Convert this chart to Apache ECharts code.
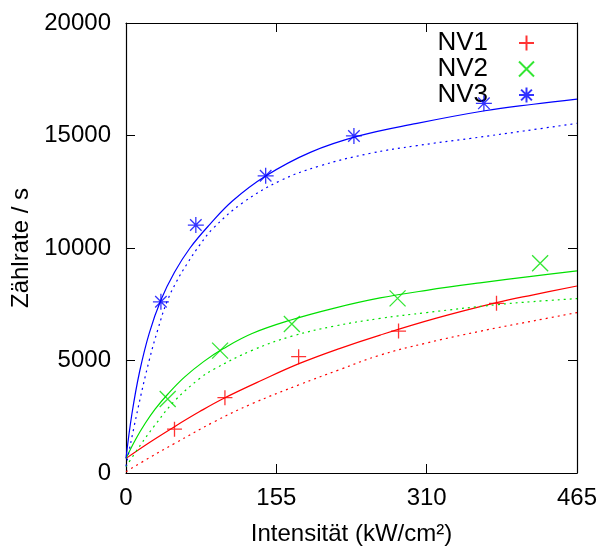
<!DOCTYPE html>
<html>
<head>
<meta charset="utf-8">
<script src="https://cdn.jsdelivr.net/npm/echarts@6/dist/echarts.min.js"></script>
<style>
html,body{margin:0;padding:0;background:#fff;}
#chart{width:603px;height:547px;}
</style>
</head>
<body>
<div id="chart"></div>
<script>
// ---- data ----
var xTicks = [0, 155, 310, 465];
var yTicks = [0, 5000, 10000, 15000, 20000];

var nv1X = [50, 102, 178, 281, 382];
var nv1Y = [1950, 3350, 5170, 6310, 7540];
var nv2X = [43, 97, 171, 280, 427];
var nv2Y = [3290, 5440, 6620, 7760, 9320];
var nv3X = [36, 72, 144, 235, 369];
var nv3Y = [7610, 11020, 13210, 14980, 16430];

// fit curves (solid) and dotted curves
var fit1X = [0, 25, 50, 76, 100, 140, 179, 220, 262, 320, 382, 420, 465];
var fit1Y = [650, 1380, 2060, 2730, 3300, 4120, 4870, 5530, 6130, 6880, 7570, 7920, 8310];
var dot1X = [0, 25, 50, 91, 130, 179, 220, 262, 310, 365, 420, 465];
var dot1Y = [60, 700, 1310, 2280, 3080, 3930, 4590, 5240, 5780, 6300, 6760, 7130];

var fit2X = [0, 10, 20, 30, 43, 60, 80, 100, 130, 170, 215, 262, 310, 365, 420, 465];
var fit2Y = [650, 1500, 2220, 2840, 3500, 4250, 4950, 5520, 6200, 6800, 7330, 7780, 8120, 8450, 8750, 8980];
var dot2X = [0, 15, 29, 50, 76, 91, 130, 171, 215, 262, 310, 382, 420, 465];
var dot2Y = [280, 1250, 2080, 3200, 4200, 4620, 5450, 6080, 6530, 6870, 7130, 7480, 7620, 7750];

var fit3X = [0, 6, 14, 24, 36, 50, 66, 86, 110, 144, 190, 240, 300, 370, 420, 465];
var fit3Y = [650, 2600, 4500, 6220, 7690, 8920, 10000, 11030, 12100, 13200, 14250, 14980, 15540, 16100, 16390, 16620];
var dot3X = [0, 12, 24, 33, 42, 52, 63, 76, 90, 120, 159, 200, 251, 300, 355, 410, 465];
var dot3Y = [300, 2800, 5020, 6400, 7590, 8500, 9300, 10130, 10880, 12000, 12990, 13650, 14200, 14550, 14870, 15200, 15540];

var colors = {NV1: '#ff0000', NV2: '#00e000', NV3: '#0000ff'};

function pairs(xs, ys) { return xs.map(function (x, i) { return [x, ys[i]]; }); }

var symPlus = 'path://M0,-1L0,1M-1,0L1,0';
var symCross = 'path://M-1,-1L1,1M-1,1L1,-1';
var symStar = 'path://M0,-1L0,1M-1,0L1,0M-0.72,-0.72L0.72,0.72M-0.72,0.72L0.72,-0.72';

function curve(name, xs, ys, color, dotted) {
  return {
    name: name, type: 'line', data: pairs(xs, ys), smooth: 0.4,
    showSymbol: false, symbol: 'none', silent: true, z: 2,
    lineStyle: {color: color, width: 1.2, type: dotted ? [2, 4] : 'solid'}
  };
}
function points(name, xs, ys, color, sym, size) {
  return {
    name: name, type: 'scatter', data: pairs(xs, ys), symbol: sym, symbolSize: size, z: 5,
    itemStyle: {color: color, borderColor: color, borderWidth: 1.3}
  };
}

var axisLineStyle = {color: '#000', width: 1.2};
var tickStyle = {show: true, inside: true, length: 9, lineStyle: {color: '#000', width: 1}};

var option = {
  animation: false,
  backgroundColor: '#fff',
  grid: {left: 126, right: 26, top: 23, bottom: 74, containLabel: false, outerBoundsMode: 'none'},
  legend: {
    data: ['NV1', 'NV2', 'NV3'],
    orient: 'vertical', align: 'right',
    right: 68, top: 30, padding: 0, itemGap: 0,
    itemWidth: 15, itemHeight: 15,
    textStyle: {fontFamily: 'Liberation Sans, Arial, sans-serif', fontSize: 26, color: '#000', lineHeight: 23, padding: [0, 26, 0, 0]}
  },
  xAxis: [{
    type: 'value', min: 0, max: 465, interval: 155, position: 'bottom',
    name: 'Intensität (kW/cm²)', nameLocation: 'middle', nameGap: 49,
    nameTextStyle: {fontFamily: 'Liberation Sans, Arial, sans-serif', fontSize: 24, color: '#000'},
    axisLine: {show: true, onZero: false, lineStyle: axisLineStyle},
    axisTick: tickStyle, splitLine: {show: false},
    axisLabel: {fontFamily: 'Liberation Sans, Arial, sans-serif', fontSize: 24, color: '#000', margin: 13,
      formatter: function (v) { return xTicks.indexOf(v) >= 0 ? String(v) : ''; }}
  }, {
    type: 'value', min: 0, max: 465, interval: 155, position: 'top',
    axisLine: {show: true, onZero: false, lineStyle: axisLineStyle},
    axisTick: tickStyle, axisLabel: {show: false}, splitLine: {show: false}
  }],
  yAxis: [{
    type: 'value', min: 0, max: 20000, interval: 5000, position: 'left',
    name: 'Zählrate / s', nameLocation: 'middle', nameGap: 87,
    nameTextStyle: {fontFamily: 'Liberation Sans, Arial, sans-serif', fontSize: 24, color: '#000'},
    axisLine: {show: true, onZero: false, lineStyle: axisLineStyle},
    axisTick: tickStyle, splitLine: {show: false},
    axisLabel: {fontFamily: 'Liberation Sans, Arial, sans-serif', fontSize: 24, color: '#000', margin: 15,
      formatter: function (v) { return yTicks.indexOf(v) >= 0 ? String(v) : ''; }}
  }, {
    type: 'value', min: 0, max: 20000, interval: 5000, position: 'right',
    axisLine: {show: true, onZero: false, lineStyle: axisLineStyle},
    axisTick: tickStyle, axisLabel: {show: false}, splitLine: {show: false}
  }],
  series: [
    curve('NV1 fit', fit1X, fit1Y, colors.NV1, false),
    curve('NV1 dot', dot1X, dot1Y, colors.NV1, true),
    curve('NV2 fit', fit2X, fit2Y, colors.NV2, false),
    curve('NV2 dot', dot2X, dot2Y, colors.NV2, true),
    curve('NV3 fit', fit3X, fit3Y, colors.NV3, false),
    curve('NV3 dot', dot3X, dot3Y, colors.NV3, true),
    points('NV1', nv1X, nv1Y, colors.NV1, symPlus, 15),
    points('NV2', nv2X, nv2Y, colors.NV2, symCross, 16),
    points('NV3', nv3X, nv3Y, colors.NV3, symStar, 16)
  ]
};

var chart = echarts.init(document.getElementById('chart'), null, {renderer: 'canvas'});
chart.setOption(option);
</script>
</body>
</html>
